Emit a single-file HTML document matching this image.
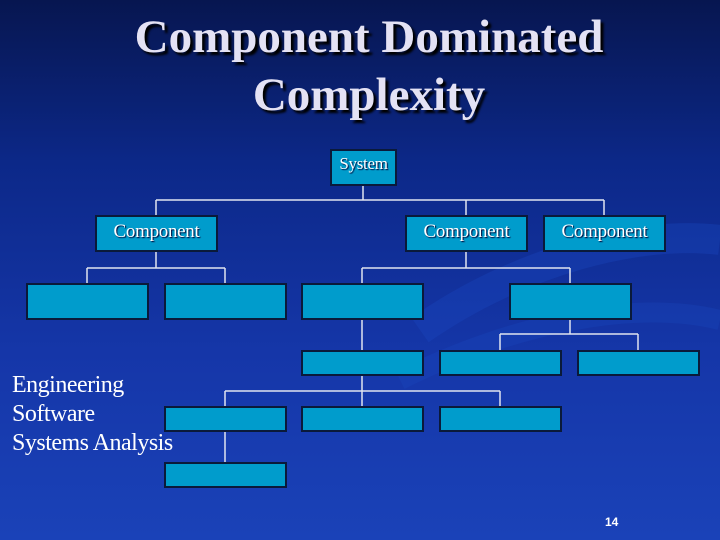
<!DOCTYPE html>
<html><head><style>
body{margin:0;width:720px;height:540px;overflow:hidden;}
.bg{position:absolute;left:0;top:0;width:720px;height:540px;background:linear-gradient(180deg,#071650 0%,#0c2888 30%,#1536a8 65%,#1a42b8 100%);}
.t{position:absolute;left:0;width:738px;text-align:center;font-family:"Liberation Serif",serif;font-weight:bold;font-size:47px;color:#e4e2f4;text-shadow:3px 3px 2px #000;}
.b{position:absolute;background:#009ccc;border:2px solid #0a1a3a;box-sizing:border-box;color:#fff;font-family:"Liberation Serif",serif;font-size:19px;text-align:center;text-shadow:1px 1px 1px #003;letter-spacing:-0.3px;}
.l{position:absolute;font-family:"Liberation Serif",serif;font-size:24px;color:#fff;left:12px;letter-spacing:-0.5px;}
</style></head><body>
<div class="bg"></div>
<svg width="720" height="540" style="position:absolute;left:0;top:0">
<path d="M420,330 C520,260 640,230 720,240" stroke="#1a48c0" stroke-width="30" fill="none" opacity="0.35"/>
<path d="M400,380 C520,320 640,300 720,320" stroke="#1a48c0" stroke-width="20" fill="none" opacity="0.3"/>
<g stroke="#e0e4f0" stroke-width="1.5" fill="none">
<path d="M363,185V200M156,200H604M156,200V215M466,200V215M604,200V215"/>
<path d="M156,251V268M87,268H225M87,268V283M225,268V283"/>
<path d="M466,251V268M362,268H570M362,268V283M570,268V283"/>
<path d="M362,319V350"/>
<path d="M570,319V334M500,334H638M500,334V350M638,334V350"/>
<path d="M362,375V391M225,391H500M225,391V406M362,391V406M500,391V406"/>
<path d="M225,431V462"/>
</g></svg>
<div class="t" style="top:10px">Component Dominated</div>
<div class="t" style="top:68px">Complexity</div>
<div class="b" style="left:330px;top:149px;width:67px;height:37px;line-height:26px;font-size:17px">System</div>
<div class="b" style="left:95px;top:215px;width:123px;height:37px;line-height:30px">Component</div>
<div class="b" style="left:405px;top:215px;width:123px;height:37px;line-height:30px">Component</div>
<div class="b" style="left:543px;top:215px;width:123px;height:37px;line-height:30px">Component</div>
<div class="b" style="left:26px;top:283px;width:123px;height:37px"></div>
<div class="b" style="left:164px;top:283px;width:123px;height:37px"></div>
<div class="b" style="left:301px;top:283px;width:123px;height:37px"></div>
<div class="b" style="left:509px;top:283px;width:123px;height:37px"></div>
<div class="b" style="left:301px;top:350px;width:123px;height:26px"></div>
<div class="b" style="left:439px;top:350px;width:123px;height:26px"></div>
<div class="b" style="left:577px;top:350px;width:123px;height:26px"></div>
<div class="b" style="left:164px;top:406px;width:123px;height:26px"></div>
<div class="b" style="left:301px;top:406px;width:123px;height:26px"></div>
<div class="b" style="left:439px;top:406px;width:123px;height:26px"></div>
<div class="b" style="left:164px;top:462px;width:123px;height:26px"></div>
<div class="l" style="top:372px">Engineering</div>
<div class="l" style="top:401px">Software</div>
<div class="l" style="top:430px">Systems Analysis</div>
<div style="position:absolute;left:605px;top:515px;font-family:'Liberation Sans',sans-serif;font-size:12px;font-weight:bold;color:#fff">14</div>
</body></html>
